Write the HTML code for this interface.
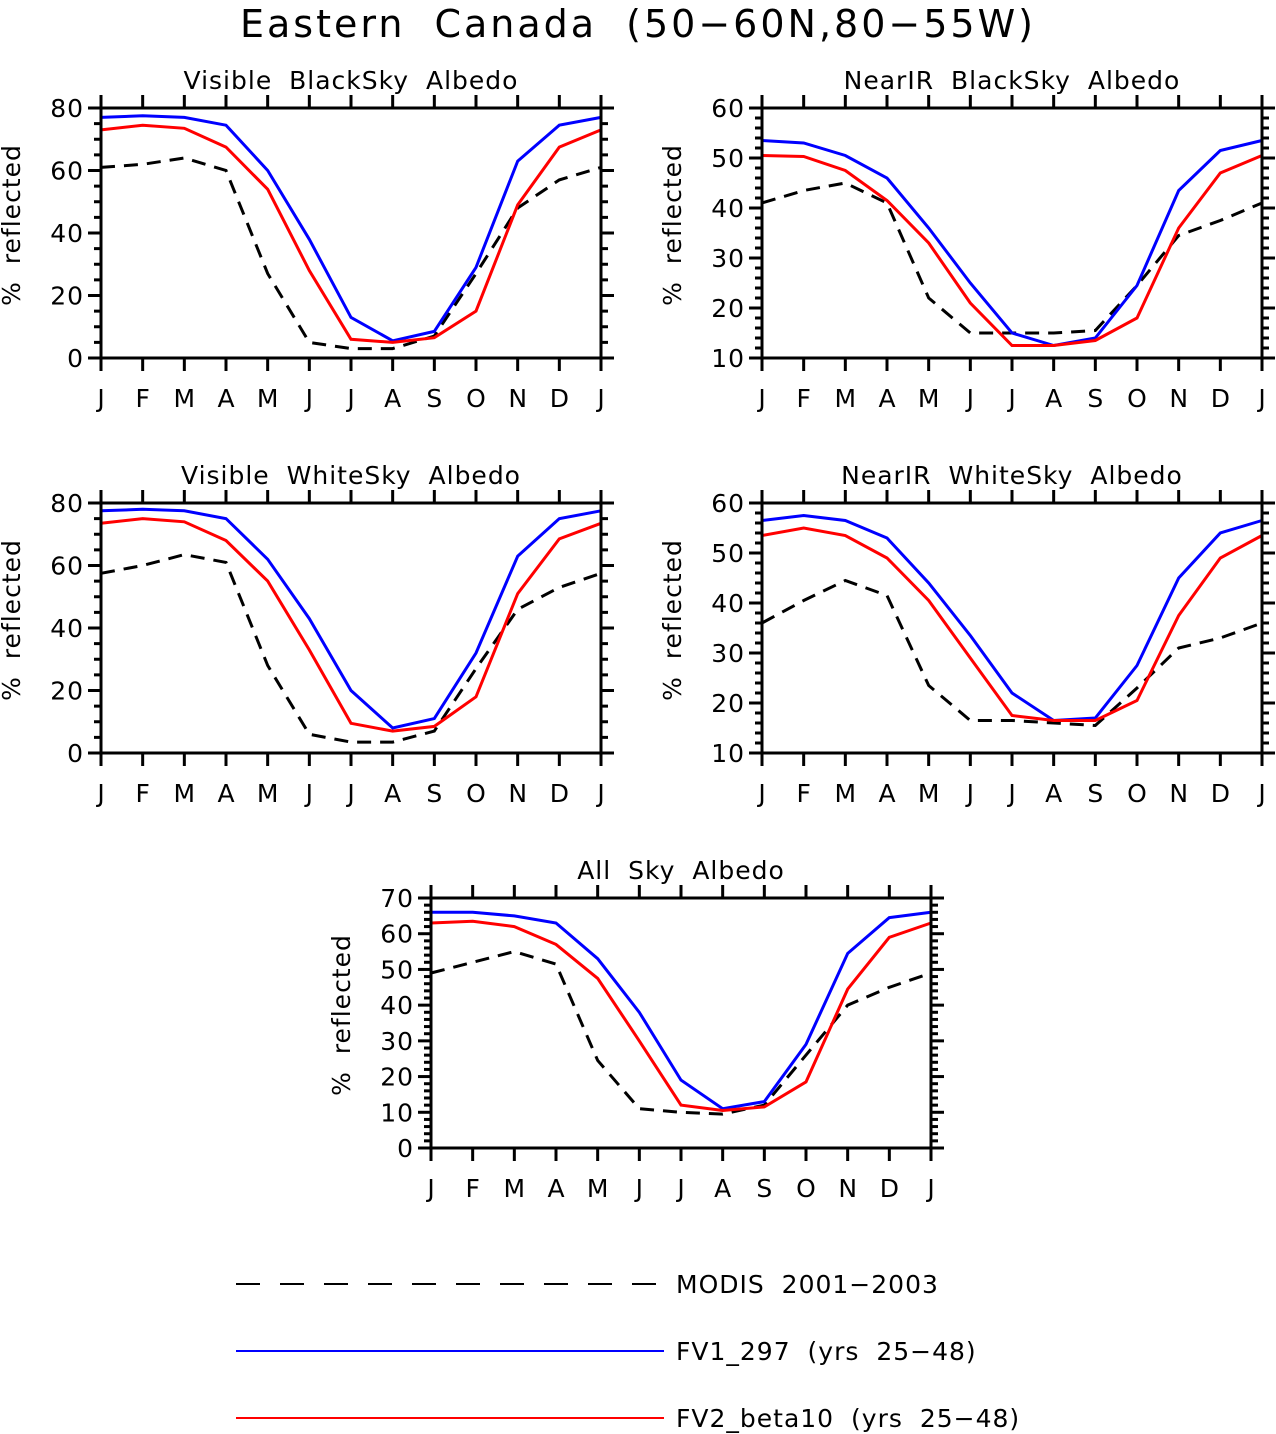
<!DOCTYPE html>
<html><head><meta charset="utf-8"><style>
body{margin:0;background:#fff}
svg{display:block;font-family:"DejaVu Sans","Liberation Sans",sans-serif}
</style></head><body>
<svg id="c" width="1276" height="1434" viewBox="0 0 1276 1434">
<text x="638" y="37" text-anchor="middle" font-size="38" letter-spacing="3" word-spacing="14">Eastern Canada (50−60N,80−55W)</text>
<g>
<line x1="236" y1="1284" x2="662" y2="1284" stroke="#000" stroke-width="2" stroke-dasharray="24,20"/>
<text x="676" y="1293" font-size="25" letter-spacing="1" word-spacing="8">MODIS 2001−2003</text>
<line x1="236" y1="1351" x2="664" y2="1351" stroke="#00f" stroke-width="2"/>
<text x="676" y="1360" font-size="25" letter-spacing="1" word-spacing="8">FV1_297 (yrs 25−48)</text>
<line x1="236" y1="1418" x2="664" y2="1418" stroke="#f00" stroke-width="2"/>
<text x="676" y="1427" font-size="25" letter-spacing="1" word-spacing="8">FV2_beta10 (yrs 25−48)</text>
</g>
</svg>
<script>
const months = ["J","F","M","A","M","J","J","A","S","O","N","D","J"];
const titles = ["Visible BlackSky Albedo","NearIR BlackSky Albedo","Visible WhiteSky Albedo","NearIR WhiteSky Albedo","All Sky Albedo"];
const blueVisBlack = [77,77.5,77,74.5,60,38,13,5.5,8.5,29,63,74.5,77];
const redVisBlack = [73,74.5,73.5,67.5,54,28,6,5,6.5,15,49,67.5,73];
const modisVisBlack = [61,62,64,60,27,5,3,3,7,27,48,57,61];
const blueNirBlack = [53.5,53,50.5,46,36,25,15,12.5,14,24.5,43.5,51.5,53.5];
const redNirBlack = [50.5,50.3,47.5,41.5,33,21,12.5,12.5,13.5,18,36,47,50.5];
const modisNirBlack = [41,43.5,45,41,22,15,15,15,15.5,24.5,34.5,37.5,41];
const blueVisWhite = [77.5,78,77.5,75,62,43,20,8,11,32,63,75,77.5];
const redVisWhite = [73.5,75,74,68,55,33,9.5,7,8.5,18,51,68.5,73.5];
const modisVisWhite = [57.5,60,63.5,61,28,6,3.5,3.5,7,27,46,53,57.5];
const blueNirWhite = [56.5,57.5,56.5,53,44,33.5,22,16.5,17,27.5,45,54,56.5];
const redNirWhite = [53.5,55,53.5,49,40.5,29,17.5,16.5,16.5,20.5,37.5,49,53.5];
const modisNirWhite = [36,40.5,44.5,41.5,23.5,16.5,16.5,16,15.5,23,31,33,36];
const blueAll = [66,66,65,63,53,38,19,11,13,29,54.5,64.5,66];
const redAll = [63,63.5,62,57,47.5,30,12,10.5,11.5,18.5,44.5,59,63];
const modisAll = [49,52,55,51.5,24.5,11,10,9.5,12,26,40,45,49];
const yTicks0 = [0,20,40,60,80];
const yTicks1 = [10,20,30,40,50,60];
const yTicks4 = [0,10,20,30,40,50,60,70];

const NS="http://www.w3.org/2000/svg";
const svg=document.getElementById('c');
function el(t,a,p){const e=document.createElementNS(NS,t);for(const k in a)e.setAttribute(k,a[k]);(p||svg).appendChild(e);return e;}

const panels=[
 {x:101,y:108,ymin:0,ymax:80,ticks:yTicks0,minor:5,s:[modisVisBlack,blueVisBlack,redVisBlack],n:"visible-blacksky"},
 {x:762,y:108,ymin:10,ymax:60,ticks:yTicks1,minor:2,s:[modisNirBlack,blueNirBlack,redNirBlack],n:"nearir-blacksky"},
 {x:101,y:503,ymin:0,ymax:80,ticks:yTicks0,minor:5,s:[modisVisWhite,blueVisWhite,redVisWhite],n:"visible-whitesky"},
 {x:762,y:503,ymin:10,ymax:60,ticks:yTicks1,minor:2,s:[modisNirWhite,blueNirWhite,redNirWhite],n:"nearir-whitesky"},
 {x:431,y:898,ymin:0,ymax:70,ticks:yTicks4,minor:2,s:[modisAll,blueAll,redAll],n:"allsky"}
];
const W=500,H=250;
panels.forEach((p,i)=>{
 const g=el('g',{});
 
 
 const xs=k=>p.x+k*W/12;
 const ys=v=>p.y+H-(v-p.ymin)/(p.ymax-p.ymin)*H;
 const t=el('text',{x:p.x+W/2,y:p.y-19,'text-anchor':'middle','font-size':25,'letter-spacing':1,'word-spacing':8},g);t.textContent=titles[i];
 
 
 const styles=[{stroke:'#000','stroke-dasharray':'14,9'},{stroke:'#00f'},{stroke:'#f00'}];
 const sn=['modis','fv1','fv2'];
 p.s.forEach((arr,j)=>{
  const pts=arr.map((v,k)=>xs(k).toFixed(1)+','+ys(v).toFixed(1)).join(' ');
  const pl=el('polyline',Object.assign({points:pts,fill:'none','stroke-width':3,'stroke-linejoin':'miter'},styles[j]),g);
  
  
 });
 const fr=el('rect',{x:p.x,y:p.y,width:W,height:H,fill:'none',stroke:'#000','stroke-width':3},g);
 
 
 for(let v=p.ymin;v<=p.ymax+1e-6;v+=p.minor){
  const major=p.ticks.includes(v);const L=major?13:7;const yy=ys(v);
  el('line',{x1:p.x-L,y1:yy,x2:p.x,y2:yy,stroke:'#000','stroke-width':3},g);
  el('line',{x1:p.x+W,y1:yy,x2:p.x+W+L,y2:yy,stroke:'#000','stroke-width':3},g);
 }
 p.ticks.forEach(v=>{
  const tl=el('text',{x:p.x-17,y:ys(v)+9,'text-anchor':'end','font-size':25,'letter-spacing':1},g);tl.textContent=v;
  
  
 });
 months.forEach((m,k)=>{
  el('line',{x1:xs(k),y1:p.y-13,x2:xs(k),y2:p.y,stroke:'#000','stroke-width':3},g);
  el('line',{x1:xs(k),y1:p.y+H,x2:xs(k),y2:p.y+H+13,stroke:'#000','stroke-width':3},g);
  const tl=el('text',{x:xs(k),y:p.y+H+49,'text-anchor':'middle','font-size':25},g);tl.textContent=m;
  
  
 });
 const yt=el('text',{x:0,y:0,'text-anchor':'middle','font-size':25,'letter-spacing':1,'word-spacing':8,transform:`translate(${p.x-81},${p.y+H/2-8}) rotate(-90)`},g);
 yt.textContent='% reflected';
 
 
});
</script>
</body></html>
